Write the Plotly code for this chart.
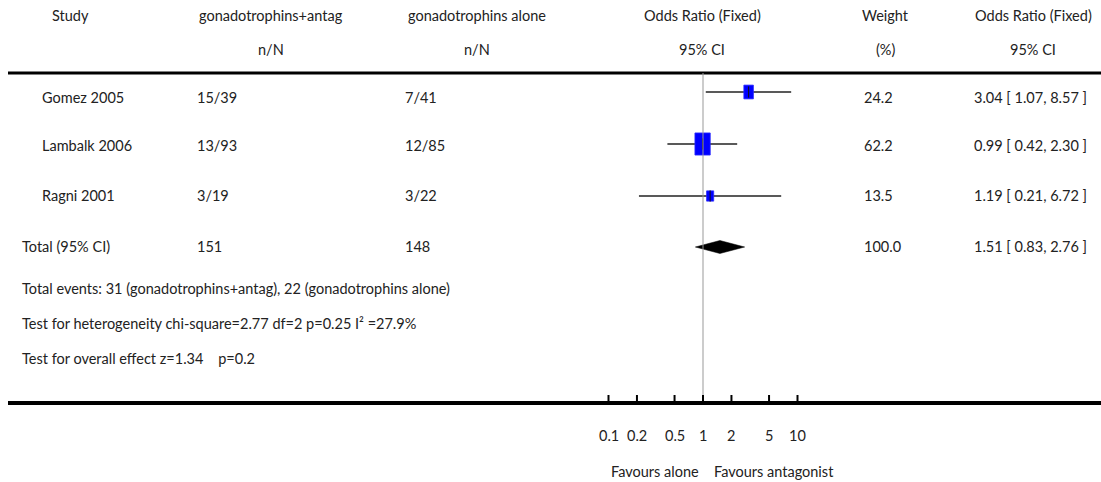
import math
import plotly.graph_objects as go

# ---------------- data ----------------
studies = ["Gomez 2005", "Lambalk 2006", "Ragni 2001"]
antag_nN = ["15/39", "13/93", "3/19"]
alone_nN = ["7/41", "12/85", "3/22"]
odds_ratio = [3.04, 0.99, 1.19]
ci_low = [1.07, 0.42, 0.21]
ci_high = [8.57, 2.30, 6.72]
weights = [24.2, 62.2, 13.5]

total_label = "Total (95% CI)"
total_antag_N = 151
total_alone_N = 148
total_or = 1.51
total_low = 0.83
total_high = 2.76
total_weight = 100.0

events_text = "Total events: 31 (gonadotrophins+antag), 22 (gonadotrophins alone)"
heterogeneity_text = "Test for heterogeneity chi-square=2.77 df=2 p=0.25 I² =27.9%"
overall_text = "Test for overall effect z=1.34    p=0.2"

tick_values = [0.1, 0.2, 0.5, 1, 2, 5, 10]
tick_labels = ["0.1", "0.2", "0.5", "1", "2", "5", "10"]
favours_left = "Favours alone"
favours_right = "Favours antagonist"

header_row1 = ["Study", "gonadotrophins+antag", "gonadotrophins alone",
               "Odds Ratio (Fixed)", "Weight", "Odds Ratio (Fixed)"]
header_row2 = ["", "n/N", "n/N", "95% CI", "(%)", "95% CI"]

# ---------------- layout constants ----------------
W, H = 1101, 482
FONT = "Lato"
FS = 14.5
TXT = "#222222"
PX_PER_DEC = 94.5
X_ONE = 703.0
MARK_Y = [92, 144, 196, 247]
TEXT_Y = [97, 145, 195, 246]
HEAD_Y = [15, 49]
TOP_LINE_Y = 73
BOT_LINE_Y = 403

def px(xp):
    return xp / W

fig = go.Figure()

# CI lines
for i in range(len(studies)):
    fig.add_trace(go.Scatter(x=[ci_low[i], ci_high[i]], y=[MARK_Y[i], MARK_Y[i]],
                             mode="lines", line=dict(color="#222222", width=1.6),
                             hoverinfo="skip", showlegend=False))

# weighted squares
for i in range(len(studies)):
    s = math.sqrt(weights[i])
    hw = 0.97 * s / PX_PER_DEC
    hh = 1.4 * s
    xo, yo = odds_ratio[i], MARK_Y[i]
    f = 10 ** hw
    fig.add_trace(go.Scatter(x=[xo / f, xo * f, xo * f, xo / f, xo / f],
                             y=[yo - hh, yo - hh, yo + hh, yo + hh, yo - hh],
                             mode="lines", fill="toself", fillcolor="#0000ff",
                             line=dict(color="#2a2aff", width=0.8),
                             hoverinfo="skip", showlegend=False))

# point estimate ticks
fig.add_trace(go.Scatter(x=odds_ratio, y=MARK_Y[:3], mode="markers",
                         marker=dict(symbol="line-ns", size=8,
                                     line=dict(color="#111111", width=1)),
                         hoverinfo="skip", showlegend=False))

# total diamond
hd = 6.5
yt = MARK_Y[3]
fig.add_trace(go.Scatter(x=[total_low, total_or, total_high, total_or, total_low],
                         y=[yt, yt - hd, yt, yt + hd, yt],
                         mode="lines", fill="toself", fillcolor="#000000",
                         line=dict(color="#000000", width=0.5),
                         hoverinfo="skip", showlegend=False))

shapes = []
shapes.append(dict(type="line", xref="paper", yref="y", x0=px(8), x1=1,
                   y0=TOP_LINE_Y, y1=TOP_LINE_Y, line=dict(color="#000", width=3)))
shapes.append(dict(type="line", xref="paper", yref="y", x0=px(8), x1=1,
                   y0=BOT_LINE_Y, y1=BOT_LINE_Y, line=dict(color="#000", width=4)))
shapes.append(dict(type="line", xref="x", yref="y", x0=1, x1=1,
                   y0=TOP_LINE_Y, y1=BOT_LINE_Y, line=dict(color="#999999", width=1)))
for tv in tick_values:
    shapes.append(dict(type="line", xref="x", yref="y", x0=tv, x1=tv,
                       y0=BOT_LINE_Y - 8, y1=BOT_LINE_Y, line=dict(color="#000", width=2)))

ann = []
def text(x, y, t, anchor="left", xref="paper", xshift=0):
    ann.append(dict(x=x, y=y, xref=xref, yref="y", text=t, showarrow=False,
                    xanchor=anchor, yanchor="middle", xshift=xshift,
                    font=dict(family=FONT, size=FS, color=TXT)))

# headers
head_cx = [70, 271, 477, 702, 885, 1033]
for cx, t1, t2 in zip(head_cx, header_row1, header_row2):
    text(px(cx), HEAD_Y[0], t1, "center")
    if t2:
        text(px(cx), HEAD_Y[1], t2, "center")

for i in range(len(studies)):
    y = TEXT_Y[i]
    text(px(40), y, studies[i])
    text(px(195), y, antag_nN[i])
    text(px(403), y, alone_nN[i])
    text(px(862), y, f"{weights[i]:.1f}")
    text(px(972), y, f"{odds_ratio[i]:.2f} [ {ci_low[i]:.2f}, {ci_high[i]:.2f} ]")

y = TEXT_Y[3]
text(px(20), y, total_label)
text(px(195), y, str(total_antag_N))
text(px(403), y, str(total_alone_N))
text(px(862), y, f"{total_weight:.1f}")
text(px(972), y, f"{total_or:.2f} [ {total_low:.2f}, {total_high:.2f} ]")

text(px(20), 288, events_text)
text(px(20), 323, heterogeneity_text)
text(px(20), 358, overall_text)

# tick labels (log axis: annotation x in log10 units)
for tv, tl in zip(tick_values, tick_labels):
    text(math.log10(tv), 435, tl, "center", xref="x")
text(0, 471, favours_left, "right", xref="x", xshift=-2)
text(0, 471, favours_right, "left", xref="x", xshift=9)

left_dec = (0 - X_ONE) / PX_PER_DEC
right_dec = (W - X_ONE) / PX_PER_DEC

fig.update_layout(
    width=W, height=H,
    margin=dict(l=0, r=0, t=0, b=0),
    paper_bgcolor="white", plot_bgcolor="white",
    xaxis=dict(type="log", range=[left_dec, right_dec], visible=False, fixedrange=True),
    yaxis=dict(range=[H, 0], visible=False, fixedrange=True),
    shapes=shapes, annotations=ann, showlegend=False,
    font=dict(family=FONT, size=FS, color=TXT),
)

fig.write_html("out.html", config={"displayModeBar": False},
               post_script="document.body.style.margin='0';document.body.style.overflow='hidden';")
